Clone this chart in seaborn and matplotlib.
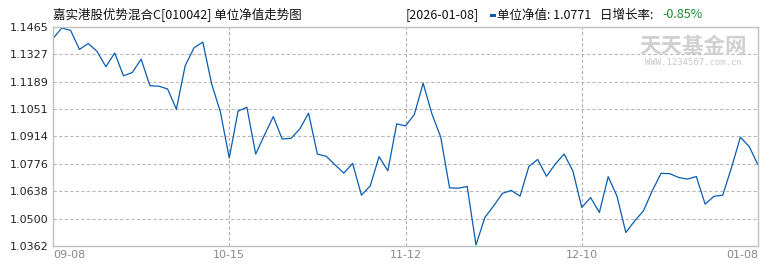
import matplotlib
matplotlib.use("Agg")
import matplotlib.pyplot as plt
import seaborn as sns
import pandas as pd
import numpy as np

# ---- data ----
nav = [1.1407, 1.1460, 1.1448, 1.1352, 1.1382, 1.1342, 1.1265, 1.1334, 1.1219, 1.1236,
       1.1303, 1.1169, 1.1167, 1.1153, 1.1051, 1.1270, 1.1360, 1.1389, 1.1179, 1.1036,
       1.0805, 1.1041, 1.1061, 1.0825, 1.0921, 1.1014, 1.0901, 1.0904, 1.0951, 1.1031,
       1.0825, 1.0814, 1.0771, 1.0729, 1.0778, 1.0618, 1.0665, 1.0812, 1.0741, 1.0977,
       1.0967, 1.1024, 1.1182, 1.1027, 1.0910, 1.0655, 1.0653, 1.0662, 1.0367, 1.0505,
       1.0564, 1.0627, 1.0642, 1.0613, 1.0763, 1.0798, 1.0713, 1.0775, 1.0825, 1.0739,
       1.0556, 1.0606, 1.0531, 1.0711, 1.0613, 1.0430, 1.0488, 1.0539, 1.0640, 1.0728,
       1.0726, 1.0707, 1.0699, 1.0712, 1.0573, 1.0612, 1.0618, 1.0758, 1.0910, 1.0863,
       1.0771]
x_tick_pos = [0, 20, 40, 60, 80]
x_tick_labels = ["09-08", "10-15", "11-12", "12-10", "01-08"]
y_ticks = [1.0362, 1.0500, 1.0638, 1.0776, 1.0914, 1.1051, 1.1189, 1.1327, 1.1465]
y_tick_labels = ["1.0362", "1.0500", "1.0638", "1.0776", "1.0914", "1.1051", "1.1189", "1.1327", "1.1465"]
title = "嘉实港股优势混合C[010042] 单位净值走势图"
last_date = "[2026-01-08]"
last_nav = "1.0771"
last_change = "-0.85%"

sns.set_style("white")
plt.rcParams["font.family"] = ["Noto Sans CJK SC", "DejaVu Sans"]

W, H = 770, 270
fig = plt.figure(figsize=(W / 100, H / 100), dpi=100)
ax = fig.add_axes([53 / W, 1 - 246 / H, (758 - 53) / W, (246 - 27) / H])

df = pd.DataFrame({"idx": np.arange(len(nav)), "nav": nav})
sns.lineplot(data=df, x="idx", y="nav", ax=ax, color="#0a5cb0", linewidth=0.9)

ax.set_xlim(0, len(nav) - 1)
ax.set_ylim(y_ticks[0], y_ticks[-1])
ax.set_xlabel("")
ax.set_ylabel("")

ax.set_yticks(y_ticks)
ax.set_yticklabels(y_tick_labels, fontsize=8, color="#222222", family="DejaVu Sans")
ax.set_xticks(x_tick_pos)
ax.set_xticklabels(x_tick_labels, fontsize=8, color="#888888", family="DejaVu Sans")
xl = ax.get_xticklabels()
xl[0].set_ha("left")
xl[-1].set_ha("right")
ax.tick_params(axis="both", length=0, pad=3)

for yv in y_ticks[1:-1]:
    ax.axhline(yv, color="#b8b8b8", linewidth=0.8, linestyle=(0, (3, 2)), zorder=0)
for xv in x_tick_pos[1:-1]:
    ax.axvline(xv, color="#b0b0b0", linewidth=0.8, linestyle=(0, (3, 2)), zorder=0)

for s in ax.spines.values():
    s.set_color("#c0c0c0")
    s.set_linewidth(1.0)

# watermark
ax.text(0.908, 0.91, "天天基金网", transform=ax.transAxes, fontsize=15.5, color="#d0d0d0",
        ha="center", va="center", fontweight="bold", zorder=1)
ax.text(0.908, 0.84, "WWW.1234567.com.cn", transform=ax.transAxes, fontsize=6.5,
        color="#c8c8c8", ha="center", va="center", family="DejaVu Sans Mono", zorder=1)

def px(x, y):
    return x / W, 1 - y / H

fig.text(*px(53, 15), title, fontsize=9, ha="left", va="center", color="#111111")
fig.text(*px(406, 15), last_date, fontsize=9, ha="left", va="center", color="#111111")
fig.patches.append(plt.Rectangle(px(490, 17), 6 / W, 3 / H, transform=fig.transFigure,
                                 facecolor="#0a5cb0", edgecolor="none"))
fig.text(*px(497, 15), "单位净值: " + last_nav, fontsize=9, ha="left", va="center", color="#111111")
fig.text(*px(600, 15), "日增长率: ", fontsize=9, ha="left", va="center", color="#111111")
fig.text(*px(662, 15), last_change, fontsize=9, ha="left", va="center", color="#1a8a2a")

fig.savefig("out.png", dpi=100)
